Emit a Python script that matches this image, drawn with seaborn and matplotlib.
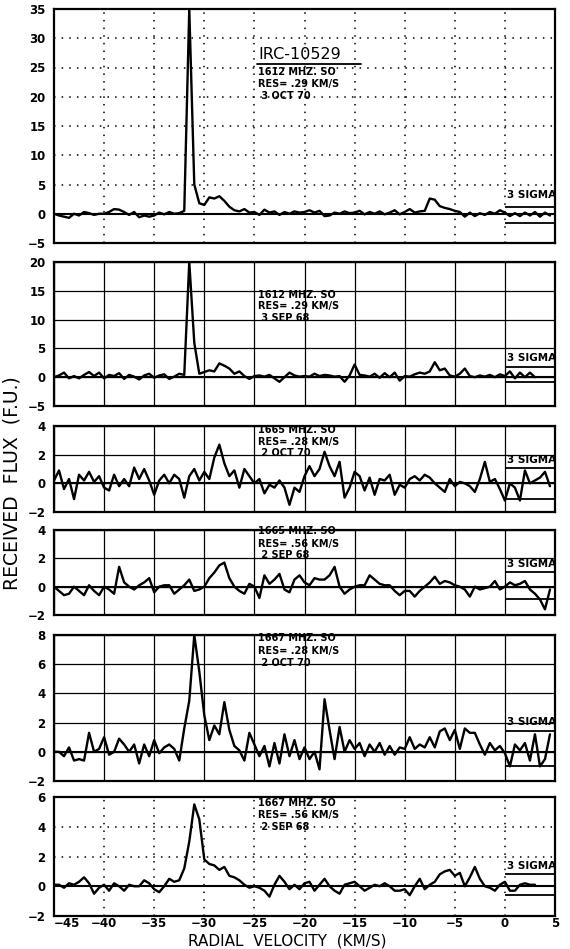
import numpy as np
import pandas as pd
import matplotlib
matplotlib.use("Agg")
import matplotlib.pyplot as plt
import seaborn as sns

# velocity channels (km/s), 0.5 km/s spacing
velocity = np.arange(-45.0, 5.0, 0.5)

flux_1612_oct70 = [
    0.0, -0.3, -0.5, -0.7, 0.0, -0.3, 0.3, 0.1, -0.2, 0.0,
    0.0, 0.3, 0.8, 0.7, 0.3, -0.2, 0.3, -0.6, -0.3, -0.5,
    -0.3, 0.2, -0.1, 0.3, 0.0, 0.1, 0.5, 35.0, 5.0, 1.8,
    1.5, 2.8, 2.6, 3.0, 2.2, 1.2, 0.6, 0.4, 0.8, 0.2,
    0.3, -0.2, 0.7, 0.2, 0.4, -0.2, 0.3, 0.0, 0.4, 0.2,
    0.3, 0.6, 0.2, 0.5, -0.4, -0.3, 0.2, 0.0, 0.4, 0.1,
    0.2, 0.5, -0.1, 0.3, 0.0, 0.4, -0.1, 0.2, 0.6, -0.1,
    0.3, 0.8, 0.2, 0.4, 0.5, 2.6, 2.4, 1.3, 1.0, 0.8,
    0.5, 0.3, -0.5, 0.2, -0.4, 0.1, -0.2, 0.3, 0.0, 0.6,
    0.2, -0.4, 0.1, -0.4, 0.2, -0.3, 0.3, -0.5, 0.2, -0.3,
]

flux_1612_sep68 = [
    0.0, 0.3, 0.8, -0.2, 0.2, -0.2, 0.4, 0.9, 0.2, 0.8,
    -0.2, 0.4, 0.2, 0.7, -0.3, 0.4, 0.1, -0.4, 0.3, 0.6,
    -0.1, 0.3, 0.5, -0.3, 0.1, 0.6, 0.4, 20.0, 6.0, 0.6,
    0.9, 1.2, 1.0, 2.4, 2.0, 1.5, 0.6, 1.0, 0.2, -0.3,
    0.2, 0.3, 0.1, 0.4, -0.2, -0.8, 0.0, 0.8, 0.3, 0.1,
    0.2, 0.1, 0.6, 0.2, 0.4, 0.3, 0.1, 0.2, -0.8, 0.3,
    2.2, 0.4, 0.3, 0.1, 0.6, -0.1, 0.7, 0.0, 0.8, -0.6,
    0.2, 0.1, 0.5, 0.8, 0.6, 1.0, 2.6, 1.2, 1.5, 0.3,
    0.1, 0.6, 1.5, 0.2, 0.0, 0.3, 0.1, 0.4, 0.0, 0.5,
    0.2, 1.0, -0.2, 0.8, 0.0, 0.8, 0.0, np.nan, np.nan, np.nan,
]

flux_1665_oct70 = [
    0.2, 0.9, -0.4, 0.3, -1.1, 0.6, 0.2, 0.8, 0.1, 0.5,
    -0.3, -0.5, 0.6, -0.2, 0.3, -0.2, 1.1, 0.3, 1.0, 0.2,
    -0.8, 0.2, 0.6, 0.0, 0.6, 0.3, -1.0, 0.5, 1.0, 0.2,
    0.8, 0.3, 1.8, 2.7, 1.4, 0.5, 0.9, -0.3, 1.0, 0.5,
    0.0, 0.3, -0.7, -0.1, -0.3, 0.2, -0.3, -1.5, -0.3, -0.6,
    0.5, 1.2, 0.5, 1.0, 2.2, 1.2, 0.5, 1.5, -1.0, -0.3,
    0.8, 0.5, -0.5, 0.4, -0.8, 0.3, 0.2, 0.6, -0.8, -0.1,
    -0.3, 0.3, 0.5, 0.2, 0.6, 0.4, 0.0, -0.3, -0.6, 0.3,
    -0.2, 0.1, 0.0, -0.2, -0.6, 0.3, 1.5, 0.1, 0.3, -0.4,
    -1.2, 0.0, -0.3, -1.2, 0.9, 0.0, 0.2, 0.4, 0.8, -0.2,
]

flux_1665_sep68 = [
    0.0, -0.3, -0.6, -0.5, 0.0, -0.3, -0.6, 0.1, -0.3, -0.6,
    0.0, -0.2, -0.5, 1.4, 0.3, 0.0, -0.2, 0.1, 0.3, 0.6,
    -0.4, 0.0, 0.1, 0.1, -0.5, -0.2, 0.1, 0.5, -0.3, -0.2,
    0.0, 0.6, 1.0, 1.5, 1.7, 0.6, 0.0, -0.3, -0.5, 0.2,
    0.0, -0.8, 0.8, 0.2, 0.5, 0.9, -0.2, -0.4, 0.5, 0.8,
    0.3, 0.1, 0.6, 0.5, 0.5, 0.8, 1.4, 0.0, -0.5, -0.2,
    0.0, 0.1, 0.1, 0.8, 0.5, 0.2, 0.1, 0.1, -0.3, -0.6,
    -0.3, -0.3, -0.7, -0.3, 0.0, 0.3, 0.7, 0.2, 0.4, 0.3,
    0.1, 0.0, -0.2, -0.7, 0.0, -0.2, -0.1, 0.0, 0.4, -0.2,
    0.0, 0.3, 0.1, 0.2, 0.4, -0.2, -0.5, -0.9, -1.6, -0.2,
]

flux_1667_oct70 = [
    0.0, 0.0, -0.3, 0.3, -0.6, -0.5, -0.6, 1.3, 0.0, 0.2,
    1.0, -0.2, 0.0, 0.9, 0.5, 0.0, 0.5, -0.8, 0.5, -0.3,
    0.8, -0.1, 0.3, 0.5, 0.2, -0.6, 1.6, 3.5, 8.0, 5.5,
    2.5, 0.8, 1.8, 1.2, 3.4, 1.5, 0.4, 0.1, -0.6, 1.3,
    0.5, -0.3, 0.4, -1.0, 0.6, -0.8, 1.2, -0.3, 0.8, -0.5,
    0.3, -0.5, 0.0, -1.2, 3.6, 1.5, -0.5, 1.7, 0.0, 0.8,
    0.2, 0.6, -0.3, 0.5, 0.0, 0.6, -0.2, 0.4, -0.2, 0.3,
    0.2, 1.0, 0.2, 0.5, 0.3, 1.0, 0.3, 1.4, 1.6, 0.8,
    1.5, 0.2, 1.6, 1.3, 1.3, 0.5, -0.2, 0.6, 0.1, 0.4,
    -0.1, -1.0, 0.5, 0.1, 0.6, -0.6, 1.2, -1.0, -0.5, 1.2,
]

flux_1667_sep68 = [
    0.1, 0.1, -0.1, 0.2, 0.1, 0.3, 0.6, 0.2, -0.5, -0.1,
    0.1, -0.3, 0.2, 0.0, -0.3, 0.1, 0.0, 0.0, 0.4, 0.2,
    -0.2, -0.4, 0.0, 0.5, 0.3, 0.4, 1.2, 3.0, 5.5, 4.5,
    1.8, 1.5, 1.4, 1.1, 1.3, 0.7, 0.6, 0.4, 0.1, -0.1,
    0.0, -0.1, -0.3, -0.7, 0.1, 0.7, 0.3, -0.2, 0.1, -0.2,
    0.2, 0.3, -0.3, 0.1, 0.5, 0.0, -0.3, -0.5, 0.1, 0.2,
    0.3, 0.0, -0.3, -0.1, 0.1, 0.0, 0.2, 0.0, -0.3, -0.3,
    -0.2, -0.6, 0.0, 0.5, -0.2, 0.1, 0.3, 0.8, 1.0, 1.1,
    0.7, 0.9, 0.0, 0.6, 1.3, 0.5, 0.0, -0.1, -0.3, 0.1,
    0.3, -0.3, -0.3, 0.1, 0.2, 0.1, 0.1, np.nan, np.nan, np.nan,
]

fluxes = [flux_1612_oct70, flux_1612_sep68, flux_1665_oct70,
          flux_1665_sep68, flux_1667_oct70, flux_1667_sep68]
y_limits = [(-5, 35), (-5, 20), (-2, 4), (-2, 4), (-2, 8), (-2, 6)]
y_steps = [5, 5, 2, 2, 2, 2]
sigma_hi = [1.2, 1.7, 1.1, 1.05, 1.4, 0.8]
sigma_lo = [-1.5, -0.9, -1.1, -0.9, -1.0, -0.6]
headers = [
    ["1612 MHZ. SO", "RES= .29 KM/S", " 3 OCT 70"],
    ["1612 MHZ. SO", "RES= .29 KM/S", " 3 SEP 68"],
    ["1665 MHZ. SO", "RES= .28 KM/S", " 2 OCT 70"],
    ["1665 MHZ. SO", "RES= .56 KM/S", " 2 SEP 68"],
    ["1667 MHZ. SO", "RES= .28 KM/S", " 2 OCT 70"],
    ["1667 MHZ. SO", "RES= .56 KM/S", " 2 SEP 68"],
]
header_y = [(24.2, 22.2, 20.2), (14.2, 12.3, 10.2), (3.7, 2.9, 2.1),
            (3.9, 3.0, 2.2), (7.8, 6.9, 6.1), (5.6, 4.8, 4.0)]
dotted_grid = [True, False, False, False, False, True]
source = "IRC-10529"

# panel boxes in pixels: top, bottom
panel_px = [(9, 243), (262, 406), (426, 512), (530, 615), (635, 781), (797, 916)]

sns.set_style("white")
plt.rcParams['font.family'] = ['DejaVu Sans']
plt.rcParams['text.color'] = 'black'
plt.rcParams['xtick.color'] = 'black'
plt.rcParams['ytick.color'] = 'black'

W, H = 570, 949
fig = plt.figure(figsize=(W / 100, H / 100), dpi=100)
left, right = 54, 555

for i, flux in enumerate(fluxes):
    top, bot = panel_px[i]
    ax = fig.add_axes([left / W, 1 - bot / H, (right - left) / W, (bot - top) / H])
    df = pd.DataFrame({'v': velocity, 'f': flux}).dropna()
    lo, hi = y_limits[i]
    ax.set_xlim(-45, 5)
    ax.set_ylim(lo, hi)
    ax.set_xticks(np.arange(-45, 6, 5))
    ax.set_yticks(np.arange(lo, hi + 0.1, y_steps[i]))
    if dotted_grid[i]:
        ax.grid(True, color='black', linestyle=(0, (1, 4)), lw=1.1)
    else:
        ax.grid(True, color='black', linestyle='-', lw=0.9)
    ax.axhline(0, color='black', lw=1.5, zorder=2)
    sns.lineplot(data=df, x='v', y='f', ax=ax, color='black', lw=1.7,
                 estimator=None, sort=False, zorder=3)
    ax.hlines([sigma_hi[i], sigma_lo[i]], 0, 5, color='black', lw=1.3, zorder=3)
    ax.text(0.2, sigma_hi[i] + (hi - lo) * 0.03, "3 SIGMA", fontsize=7.5,
            fontweight='bold', va='bottom', ha='left', color='black')
    for line, yy in zip(headers[i], header_y[i]):
        ax.text(-24.6, yy, line, fontsize=7, fontweight='bold', va='center',
                ha='left', color='black')
    if i == 0:
        ax.text(-24.6, 27.3, source, fontsize=11.5, va='center', ha='left',
                color='black')
        ax.plot([-24.7, -14.4], [25.6, 25.6], color='black', lw=1.3)
    for s in ax.spines.values():
        s.set_color('black')
        s.set_linewidth(1.6)
    ax.tick_params(length=0, pad=6, labelsize=8.5, colors='black')
    plt.setp(ax.get_yticklabels(), fontweight='bold')
    ax.set_xlabel("")
    ax.set_ylabel("")
    if i < len(fluxes) - 1:
        ax.set_xticklabels([])
    else:
        ax.tick_params(axis='x', pad=1)
        xlabels = ax.get_xticklabels()
        plt.setp(xlabels, fontweight='bold')
        xlabels[0].set_horizontalalignment('left')

fig.text(12 / W, 1 - 483 / H, "RECEIVED  FLUX  (F.U.)", rotation=90,
         fontsize=13.5, va='center', ha='center', color='black')
fig.text(287 / W, 1 - 941 / H, "RADIAL  VELOCITY  (KM/S)",
         fontsize=11, va='center', ha='center', color='black')

fig.savefig("out.png", dpi=100)
